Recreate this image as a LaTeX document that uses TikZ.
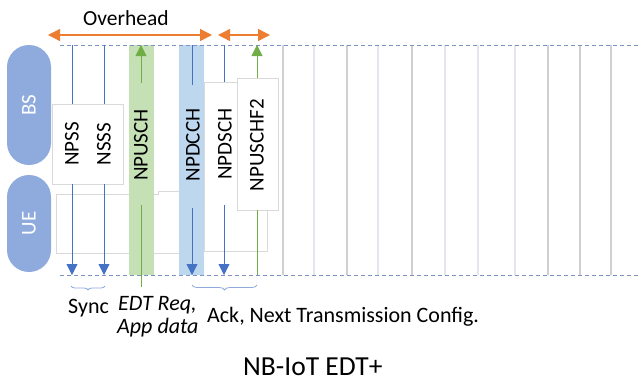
\documentclass[tikz,border=0pt]{standalone}
\usepackage{fontspec}
\setmainfont{Carlito}
\usetikzlibrary{arrows.meta,decorations.pathreplacing}
\definecolor{pillc}{HTML}{8FAADC}
\definecolor{blu}{HTML}{4472C4}
\definecolor{grn}{HTML}{70AD47}
\definecolor{org}{HTML}{ED7D31}
\definecolor{gband}{HTML}{C5E0B4}
\definecolor{bband}{HTML}{BDD7EE}
\definecolor{dashc}{HTML}{7A92C4}
\definecolor{gla}{HTML}{CFCFD4}
\definecolor{glb}{HTML}{E3E6EE}
\definecolor{boxc}{HTML}{D9D9D9}
\begin{document}
\begin{tikzpicture}[x=1pt,y=-1pt,
  pillnode/.style={fill=pillc, rounded corners=22pt, minimum width=#1, minimum height=44pt,
     inner sep=0pt, text=white, font=\fontsize{21}{21}\selectfont, rotate=90},
  vlab/.style={rotate=90, inner sep=0pt, font=\fontsize{21}{21}\selectfont},
  blab/.style={anchor=base west, inner sep=0pt, font=\fontsize{22}{22}\selectfont},
  tbox/.style={draw=boxc, fill=white, line width=0.6pt},
  dashln/.style={dashc, dashed, dash pattern=on 4pt off 3pt, line width=0.9pt},
  gridln/.style={line width=1.5pt},
  barrow/.style={blu, line width=0.8pt, -{Triangle[width=11pt,length=11pt]}},
  bline/.style={blu, line width=0.8pt},
  garrow/.style={grn, line width=0.8pt, -{Triangle[width=11pt,length=11pt]}},
  gline/.style={grn, line width=0.8pt},
  oarrow/.style={org, line width=1.3pt, {Triangle[width=12pt,length=12pt]}-{Triangle[width=12pt,length=12pt]}},
  bracec/.style={pillc, line width=0.8pt, decorate, decoration={brace, mirror, amplitude=5pt}}
]
\useasboundingbox (0,0) rectangle (640,381);

% grid lines on the right
\foreach \xx/\cc in {283/gla,314/glb,347/gla,378/glb,412/gla,445/glb,478/glb,515/glb,548/gla,580/gla,611/gla}
  \draw[gridln,\cc] (\xx,45) -- (\xx,275);

% background text boxes
\draw[boxc, line width=0.6pt] (129,253) -- (56,253) -- (56,194) -- (129,194);
\draw[boxc, line width=0.6pt] (154,194) -- (158,194) -- (158,191) -- (179,191);
\draw[boxc, line width=0.6pt] (154,253) -- (179,253);
\draw[tbox] (204,82) rectangle (267,251);
\draw[tbox] (237,78) rectangle (278,210);
\draw[tbox] (52,104) rectangle (123,184);

% bands
\fill[gband] (129,45) rectangle (154,275);
\fill[bband] (179,45) rectangle (204,275);

% dashed time lines
\coordinate (topL) at (60,45);
\coordinate (topR) at (640,45);
\coordinate (botL) at (60,275);
\coordinate (botR) at (640,275);
\draw[dashln] (topL) -- (topR);
\draw[dashln] (botL) -- (botR);

% pills
\node[pillnode=120pt] (bs) at (29,105) {BS};
\node[pillnode=97pt] (ue) at (29,223.5) {UE};

% channel labels
\node[vlab] (npss) at (72,144) {NPSS};
\node[vlab] (nsss) at (104,144) {NSSS};
\node[vlab] (npusch) at (141,145) {NPUSCH};
\node[vlab] (npdcch) at (193,145) {NPDCCH};
\node[vlab] (npdsch) at (225,144) {NPDSCH};
\node[vlab] (npuschf) at (257,145) {NPUSCHF2};

% NPSS / NSSS
\draw[bline] (72,45) -- (72,104);
\draw[barrow] (72,184) -- (72,275);
\draw[bline] (104,45) -- (104,104);
\draw[barrow] (104,184) -- (104,275);
% NPUSCH
\draw[garrow] (141,83) -- (141,45);
\draw[gline] (141,205) -- (141,287);
% NPDCCH
\draw[bline] (192,45) -- (192,85);
\draw[barrow] (192,208) -- (192,275);
% NPDSCH
\draw[bline] (224,45) -- (224,82);
\draw[barrow] (224,205) -- (224,275);
% NPUSCHF2
\draw[garrow] (257,78) -- (257,45);
\draw[gline] (257,210) -- (257,275);

% overhead arrows
\coordinate (oh1) at (48,35);
\coordinate (oh2) at (212,35);
\coordinate (oh3) at (218,35);
\coordinate (oh4) at (270,35);
\draw[oarrow] (oh1) -- (oh2);
\draw[oarrow] (oh3) -- (oh4);
\node[blab, font=\fontsize{21.5}{22}\selectfont] (overhead) at (83,25) {Overhead};

% braces
\draw[bracec, decoration={amplitude=4pt}] (71,286) -- (105,286);
\draw[bracec] (192,285) -- (257,285);

% bottom labels
\node[blab] (sync) at (68,313) {Sync};
\node[blab, font=\fontsize{22}{22}\selectfont\itshape] (edt) at (118,310) {EDT Req,};
\node[blab, font=\fontsize{22}{22}\selectfont\itshape] (app) at (117,333) {App data};
\node[blab] (ack) at (207,322) {Ack, Next Transmission Config.};
\node[blab, font=\fontsize{27.5}{28}\selectfont] (title) at (243,375) {NB-IoT EDT+};
\end{tikzpicture}
\end{document}
